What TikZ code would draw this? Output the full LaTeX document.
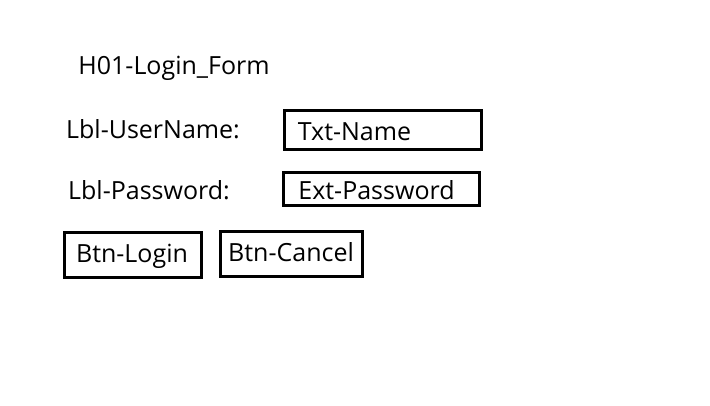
\documentclass[tikz,border=0pt]{standalone}
\usepackage{fontspec}
\setmainfont{Open Sans}
\begin{document}
\begin{tikzpicture}[x=1pt,y=-1pt,
  lbl/.style={inner sep=0pt,font=\fontsize{25}{30}\selectfont,anchor=base},
  box/.style={draw,line width=3pt,inner sep=0pt}]
\useasboundingbox (0,0) rectangle (710,406);
\node[lbl] (title) at (174,75) {H01-Login\_Form};
\node[lbl] (lblu) at (153,139) {Lbl-UserName:};
\node[lbl] (lblp) at (149,200) {Lbl-Password:};
\node[box,minimum width=197pt,minimum height=39pt] (txtbox) at (382.5,130.5) {};
\node[lbl] (txt) at (354.5,141) {Txt-Name};
\node[box,minimum width=196pt,minimum height=33pt] (extbox) at (381,189.5) {};
\node[lbl] (ext) at (376.5,199.5) {Ext-Password};
\node[box,minimum width=137pt,minimum height=45pt] (loginbox) at (132.5,255.5) {};
\node[lbl] (login) at (132,263) {Btn-Login};
\node[box,minimum width=142pt,minimum height=45pt] (cancelbox) at (291,254.5) {};
\node[lbl] (cancel) at (291,262) {Btn-Cancel};
\end{tikzpicture}
\end{document}
